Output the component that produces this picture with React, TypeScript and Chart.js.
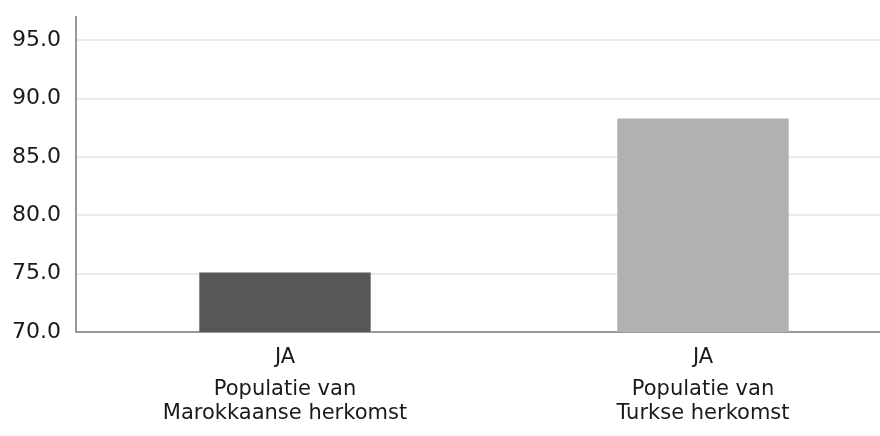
import React, { useEffect, useRef } from "react";
import { Chart, registerables } from "chart.js";

Chart.register(...registerables);

const answerLabels = ["JA", "JA"];
const groupLabels = [
  ["Populatie van", "Marokkaanse herkomst"],
  ["Populatie van", "Turkse herkomst"],
];
const values = [75.1, 88.3];
const barColors = ["#575757", "#b0b1b2"];
const yMin = 70;
const yMax = 97;
const yStep = 5;

export default function App() {
  const ref = useRef<HTMLCanvasElement | null>(null);

  useEffect(() => {
    if (!ref.current) return;
    const font = "'DejaVu Sans', Verdana, sans-serif";
    const chart = new Chart(ref.current, {
      type: "bar",
      data: {
        labels: answerLabels,
        datasets: [
          {
            data: values,
            backgroundColor: barColors,
            borderWidth: 0,
            barPercentage: 0.41,
            categoryPercentage: 1,
          },
        ],
      },
      options: {
        animation: false,
        responsive: false,
        maintainAspectRatio: false,
        layout: { padding: { left: 10, top: 17, right: 0, bottom: 0 } },
        plugins: { legend: { display: false }, tooltip: { enabled: false } },
        scales: {
          x: {
            type: "category",
            position: "bottom",
            grid: { display: false },
            border: { display: true, color: "#999999", width: 2 },
            ticks: {
              color: "#1a1a1a",
              font: { family: font, size: 21 },
              padding: 4.5,
              maxRotation: 0,
              autoSkip: false,
            },
            afterFit: (s: any) => {
              s.height = 40;
              s.paddingLeft = 0;
              s.paddingRight = 0;
            },
          },
          x2: {
            type: "category",
            position: "bottom",
            labels: groupLabels as any,
            grid: { display: false },
            border: { display: false },
            ticks: {
              color: "#1a1a1a",
              font: { family: font, size: 21, lineHeight: "24px" as any },
              padding: -2.5,
              maxRotation: 0,
              autoSkip: false,
            },
            afterFit: (s: any) => {
              s.height = 64;
              s.paddingLeft = 0;
              s.paddingRight = 0;
            },
          },
          y: {
            type: "linear",
            min: yMin,
            max: yMax,
            grid: { color: "#ebebeb", lineWidth: 2, drawTicks: false },
            border: { display: true, color: "#999999", width: 2 },
            ticks: {
              stepSize: yStep,
              includeBounds: false,
              color: "#1a1a1a",
              font: { family: font, size: 22 },
              padding: 15,
              callback: (v: any) => Number(v).toFixed(1),
            },
            afterFit: (s: any) => {
              s.width = 66;
              s.paddingTop = 0;
              s.paddingBottom = 0;
            },
          },
        },
      },
    });
    return () => chart.destroy();
  }, []);

  return (
    <div
      style={{
        position: "fixed",
        left: 0,
        top: 0,
        width: 880,
        height: 436,
        overflow: "hidden",
        background: "#ffffff",
      }}
    >
      <canvas ref={ref} width={912} height={436} style={{ display: "block" }} />
    </div>
  );
}
